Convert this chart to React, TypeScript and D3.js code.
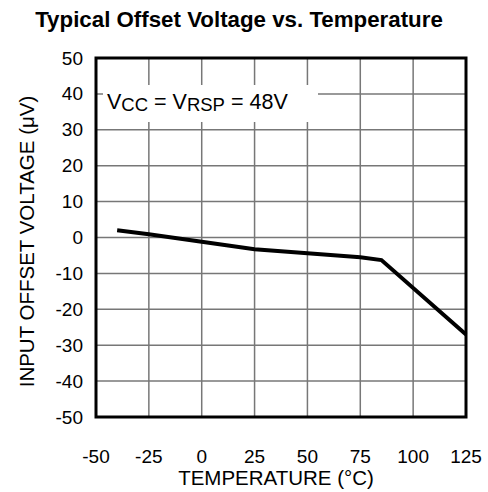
import React from "react";
import * as d3 from "d3";

const temps = [-40, -25, 0, 25, 50, 75, 85, 125];
const offsets = [2, 0.9, -1.2, -3.3, -4.4, -5.5, -6.3, -27];
const xTicks = [-50, -25, 0, 25, 50, 75, 100, 125];
const yTicks = [-50, -40, -30, -20, -10, 0, 10, 20, 30, 40, 50];

const W = 488;
const H = 492;
const L = 96, R = 466, T = 58, B = 417;
const FONT = "'Liberation Sans', Arial, Helvetica, sans-serif";

export default function App() {
  const x = d3.scaleLinear().domain([-50, 125]).range([L, R]);
  const y = d3.scaleLinear().domain([-50, 50]).range([B, T]);
  const pts: [number, number][] = temps.map((t, i) => [t, offsets[i]]);
  const line = d3.line<[number, number]>().x(d => x(d[0])).y(d => y(d[1]));

  return (
    <svg width={W} height={H} style={{ position: "absolute", left: 0, top: 0, background: "#fff" }} fontFamily={FONT}>
      <rect x={0} y={0} width={W} height={H} fill="#fff" />
      <text x={239} y={27} textAnchor="middle" fontSize={22.3} fontWeight="bold" fill="#000">
        Typical Offset Voltage vs. Temperature
      </text>
      {/* grid */}
      {xTicks.slice(1, -1).map(t => (
        <line key={"gx" + t} x1={x(t)} x2={x(t)} y1={T} y2={B} stroke="#777" strokeWidth={1.5} />
      ))}
      {yTicks.slice(1, -1).map(t => (
        <line key={"gy" + t} x1={L} x2={R} y1={y(t)} y2={y(t)} stroke="#777" strokeWidth={1.5} />
      ))}
      {/* annotation box */}
      <rect x={103} y={85} width={215} height={37} fill="#fff" />
      <text x={107} y={108.5} fontSize={21.5} fill="#000">
        V<tspan fontSize={18.5} dy={2.5}>CC</tspan>
        <tspan dy={-2.5}> = V</tspan>
        <tspan fontSize={18.5} dy={2.5}>RSP</tspan>
        <tspan dy={-2.5}> = 48V</tspan>
      </text>
      {/* data line */}
      <path d={line(pts) || ""} fill="none" stroke="#000" strokeWidth={4} strokeLinejoin="miter" />
      {/* frame */}
      <rect x={L} y={T} width={R - L} height={B - T} fill="none" stroke="#000" strokeWidth={3} />
      {/* y tick labels */}
      {yTicks.map(t => (
        <text key={"yl" + t} x={83} y={y(t)} textAnchor="end" dominantBaseline="central" fontSize={19} fill="#000">
          {t}
        </text>
      ))}
      {/* x tick labels */}
      {xTicks.map(t => (
        <text key={"xl" + t} x={x(t)} y={463} textAnchor="middle" fontSize={19} fill="#000">
          {t}
        </text>
      ))}
      <text x={276} y={485} textAnchor="middle" fontSize={20.5} fill="#000">
        TEMPERATURE (°C)
      </text>
      <text
        transform={`translate(34, ${(T + B) / 2 + 4}) rotate(-90)`}
        textAnchor="middle"
        fontSize={20.5}
        fill="#000"
      >
        INPUT OFFSET VOLTAGE (μV)
      </text>
    </svg>
  );
}
